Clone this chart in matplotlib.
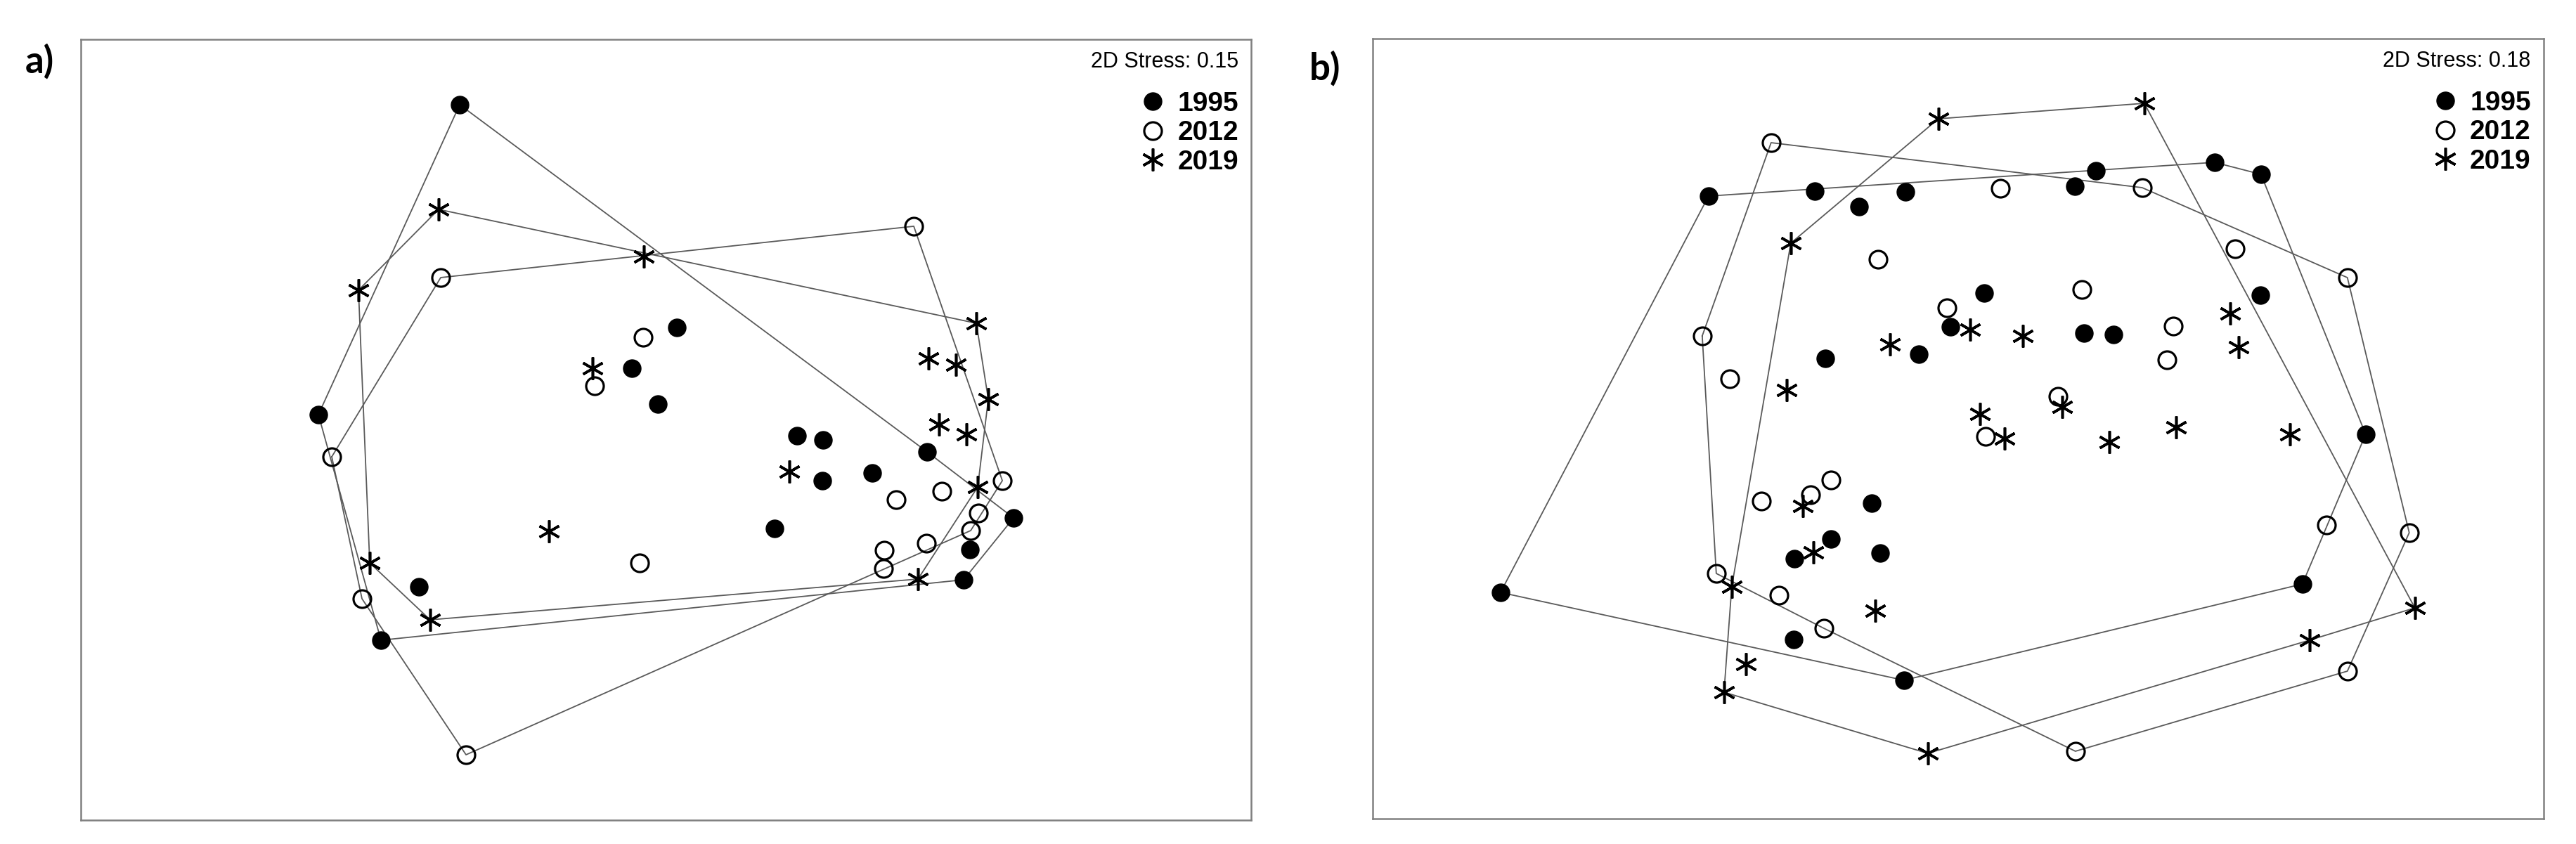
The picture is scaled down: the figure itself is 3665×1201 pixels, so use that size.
import numpy as np
import matplotlib
matplotlib.use("Agg")
import matplotlib.pyplot as plt
from matplotlib.lines import Line2D

# NMDS ordination scores (arbitrary NMDS units)
years = ["1995", "2012", "2019"]

# panel a)
a_1995_x = [-0.587, 0.031, -0.097, -0.023, -0.989, 0.373, 0.447, 0.445,
            0.587, 0.309, 0.743, 0.989, 0.865, 0.847, -0.703, -0.811]
a_1995_y = [0.925, 0.291, 0.175, 0.073, 0.043, -0.017, -0.029, -0.145,
            -0.123, -0.281, -0.063, -0.251, -0.341, -0.427, -0.447, -0.599]
a_2012_x = [-0.641, 0.705, -0.065, -0.203, -0.951, -0.865, -0.569, -0.075,
            0.655, 0.785, 0.957, 0.889, 0.867, 0.741, 0.621, 0.619]
a_2012_y = [0.433, 0.579, 0.263, 0.125, -0.077, -0.481, -0.925, -0.379,
            -0.199, -0.175, -0.145, -0.237, -0.287, -0.323, -0.343, -0.395]
a_2019_x = [-0.647, -0.063, -0.875, -0.209, 0.883, 0.747, 0.825, 0.917,
            0.777, 0.855, 0.351, 0.887, 0.717, -0.333, -0.843, -0.671]
a_2019_y = [0.627, 0.493, 0.397, 0.175, 0.303, 0.203, 0.185, 0.087,
            0.015, -0.013, -0.119, -0.163, -0.425, -0.289, -0.379, -0.541]

# panel b)
b_1995_x = [-0.710, -0.408, -0.150, -0.282, 0.392, 0.332, 0.730, 0.862,
            -0.022, -0.378, -0.112, 0.074, 0.358, 0.442, 0.860, 1.160,
            0.980, -1.302, -0.246, -0.362, -0.466, -0.222, -0.468, -0.154]
b_1995_y = [0.662, 0.676, 0.674, 0.632, 0.734, 0.690, 0.758, 0.724,
            0.290, 0.200, 0.212, 0.386, 0.272, 0.268, 0.380, -0.016,
            -0.442, -0.466, -0.212, -0.314, -0.370, -0.354, -0.600, -0.716]
b_2012_x = [-0.532, -0.228, -0.032, -0.728, -0.650, 0.120, 0.524, 0.788,
            1.108, 0.352, 0.612, 0.594, 0.284, 0.078, 1.048, 1.284,
            1.108, 0.334, -0.362, -0.420, -0.560, -0.688, -0.510, -0.382]
b_2012_y = [0.814, 0.482, 0.344, 0.264, 0.142, 0.684, 0.686, 0.512,
            0.430, 0.396, 0.292, 0.196, 0.092, -0.022, -0.274, -0.296,
            -0.690, -0.918, -0.146, -0.188, -0.206, -0.412, -0.474, -0.568]
b_2019_x = [-0.056, 0.530, -0.476, -0.194, -0.488, 0.034, 0.184, 0.774,
            0.798, 0.062, 0.296, 0.132, 0.430, 0.620, 0.944, 1.300,
            1.000, -0.086, -0.442, -0.412, -0.644, -0.236, -0.604, -0.666]
b_2019_y = [0.882, 0.926, 0.528, 0.240, 0.110, 0.282, 0.264, 0.328,
            0.232, 0.042, 0.062, -0.028, -0.038, 0.004, -0.016, -0.510,
            -0.602, -0.924, -0.220, -0.352, -0.450, -0.518, -0.670, -0.750]

stress_a = 0.15
stress_b = 0.18

MARKERS = {
    "1995": dict(marker="o", ms=18, mfc="black", mec="black", mew=1),
    "2012": dict(marker="o", ms=18, mfc="none", mec="black", mew=2.3),
    "2019": dict(marker=(6, 2, 0), ms=23, mfc="black", mec="black", mew=2.6),
}


def convex_hull(xs, ys):
    pts = sorted(set(zip(xs, ys)))

    def cross(o, a, b):
        return (a[0] - o[0]) * (b[1] - o[1]) - (a[1] - o[1]) * (b[0] - o[0])

    lower = []
    for p in pts:
        while len(lower) >= 2 and cross(lower[-2], lower[-1], p) <= 0:
            lower.pop()
        lower.append(p)
    upper = []
    for p in reversed(pts):
        while len(upper) >= 2 and cross(upper[-2], upper[-1], p) <= 0:
            upper.pop()
        upper.append(p)
    hull = lower[:-1] + upper[:-1]
    hull.append(hull[0])
    return [p[0] for p in hull], [p[1] for p in hull]


def draw_panel(ax, groups, stress, xlim, ylim):
    for year, (xs, ys) in zip(years, groups):
        hx, hy = convex_hull(xs, ys)
        ax.plot(hx, hy, color="#5a5a5a", lw=1.3, zorder=1)
    for year, (xs, ys) in zip(years, groups):
        ax.plot(xs, ys, ls="none", zorder=3, **MARKERS[year])

    ax.set_xlim(*xlim)
    ax.set_ylim(*ylim)
    ax.set_xticks([])
    ax.set_yticks([])
    for sp in ax.spines.values():
        sp.set_color("#808080")
        sp.set_linewidth(1.8)

    ax.text(0.9892, 0.964, f"2D Stress: {stress:.2f}", transform=ax.transAxes,
            ha="right", va="baseline", fontsize=22, family="Liberation Sans")

    handles = [Line2D([], [], ls="none", **MARKERS[y]) for y in years]
    ax.legend(handles, years, loc="upper right", bbox_to_anchor=(0.9892, 0.9335),
              frameon=False, borderpad=0, borderaxespad=0, handlelength=0.9,
              handletextpad=0.45, labelspacing=0.14,
              prop=dict(family="Liberation Sans", weight="bold", size=28))


fig = plt.figure(figsize=(36.66, 12.01), dpi=100)
ax_a = fig.add_axes([0.03137, 0.02831, 0.4542, 0.9251])
ax_b = fig.add_axes([0.5327, 0.02998, 0.4544, 0.9242])

draw_panel(ax_a,
           [(a_1995_x, a_1995_y), (a_2012_x, a_2012_y), (a_2019_x, a_2019_y)],
           stress_a, (-1.665, 1.665), (-1.111, 1.111))
draw_panel(ax_b,
           [(b_1995_x, b_1995_y), (b_2012_x, b_2012_y), (b_2019_x, b_2019_y)],
           stress_b, (-1.666, 1.666), (-1.11, 1.11))

fig.text(56 / 3666, 1 - 87 / 1201, "a)", ha="center", va="center",
         fontsize=38, fontweight="bold", family="Lato")
fig.text(1885 / 3666, 1 - 97 / 1201, "b)", ha="center", va="center",
         fontsize=38, fontweight="bold", family="Lato")

fig.savefig("out.png", dpi=100, facecolor="white")
